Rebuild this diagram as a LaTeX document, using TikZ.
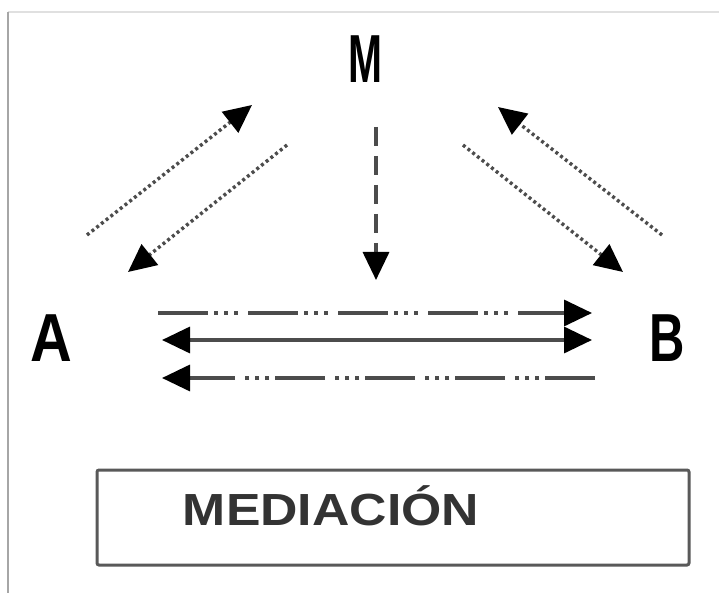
\documentclass[tikz,border=0pt]{standalone}
\usepackage{fontspec}
\setmainfont{Liberation Sans}
\usetikzlibrary{arrows.meta}

\begin{document}
\begin{tikzpicture}[x=1pt,y=-1pt]
	\tikzstyle{every node}+=[inner sep=0pt]
	\tikzstyle{letra}=[font=\bfseries\fontsize{68}{68}\selectfont]
	\tikzstyle{flecha}=[line width=3.4pt, black!70, -{Triangle[length=28pt,width=26pt,color=black]}]
	\tikzstyle{doble}=[flecha, {Triangle[length=28pt,width=26pt,color=black]}-{Triangle[length=28pt,width=26pt,color=black]}]
	\tikzstyle{punteada}=[flecha, dash pattern=on 3pt off 3pt]
	\tikzstyle{rayada}=[flecha, dash pattern=on 19pt off 10pt]
	\tikzstyle{rayapunto}=[flecha, dash pattern=on 50pt off 6pt on 4pt off 6pt on 4pt off 6pt on 4pt off 10pt]
	\useasboundingbox (0,0) rectangle (719,593);
	\fill [white] (0,0) rectangle (719,593);
	\draw [black!12, line width=2pt] (8,12) -- (719,12);
	\draw [black!35, line width=2.4pt] (8,12) -- (8,593);
	\node [letra] (M) at (365,59) {\scalebox{0.6}[1]{M}};
	\node [letra] (A) at (51,338) {\scalebox{0.85}[1]{A}};
	\node [letra] (B) at (667,338) {\scalebox{0.72}[1]{B}};
	\coordinate (am1) at (87,235);
	\coordinate (am2) at (252,105);
	\coordinate (ma1) at (287,145);
	\coordinate (ma2) at (128,272);
	\coordinate (bm1) at (662,235);
	\coordinate (bm2) at (498,107);
	\coordinate (mb1) at (463,145);
	\coordinate (mb2) at (623,272);
	\coordinate (v1) at (376,127);
	\coordinate (v2) at (376,280);
	\coordinate (ab1) at (158,313);
	\coordinate (ab2) at (592,313);
	\coordinate (c1) at (162,340);
	\coordinate (c2) at (592,340);
	\coordinate (ba1) at (595,378);
	\coordinate (ba2) at (162,378);
	\draw [punteada] (am1) -- (am2);
	\draw [punteada] (ma1) -- (ma2);
	\draw [punteada] (bm1) -- (bm2);
	\draw [punteada] (mb1) -- (mb2);
	\draw [rayada] (v1) -- (v2);
	\draw [rayapunto] (ab1) -- (ab2);
	\draw [doble] (c1) -- (c2);
	\draw [rayapunto] (ba1) -- (ba2);
	\node [draw=black!65, line width=3pt, rounded corners=2pt, minimum width=592pt, minimum height=95pt] (caja) at (393,517.5) {};
	\node [font=\bfseries\fontsize{45}{45}\selectfont, text=black!80] (titulo) at (331,506) {\scalebox{1.15}[1]{MEDIACIÓN}};
\end{tikzpicture}
\end{document}
